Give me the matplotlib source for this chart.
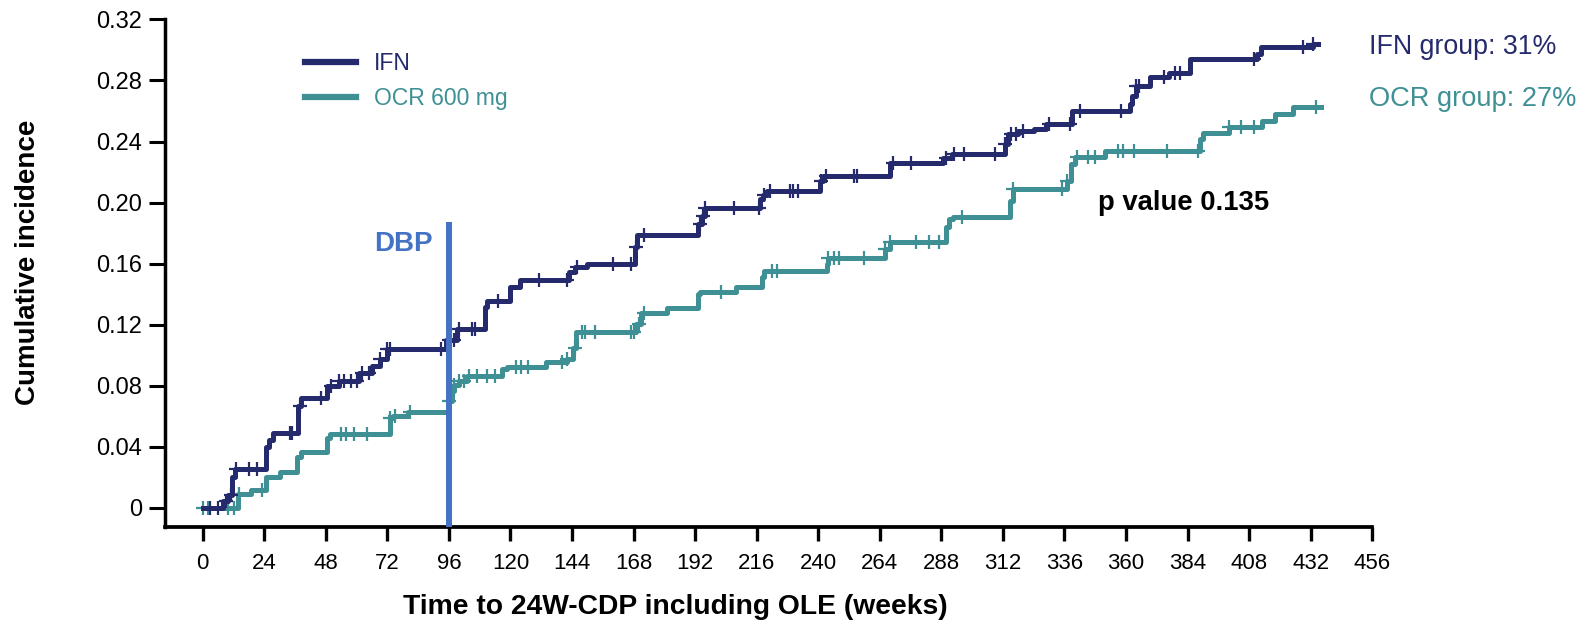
import numpy as np
import matplotlib
matplotlib.use("Agg")
import matplotlib.pyplot as plt
from matplotlib.lines import Line2D

# ---- data (weeks, cumulative incidence) ----
ifn_t = [0, 8, 10, 11.6, 12.5, 24.8, 26, 27.5, 37, 38.5, 48.5, 53, 61, 66, 69, 72,
         94.7, 99, 110, 111, 119.8, 123.7, 143, 145, 150, 168.5, 169.5, 193, 194.5,
         196, 217.3, 218.5, 220, 240.5, 242, 268, 288.8, 292, 312.8, 314, 318, 324,
         329, 338.8, 361.6, 362.5, 364, 369.4, 376.6, 385, 411, 412.5, 433, 435]
ifn_v = [0, 0.0047, 0.0083, 0.020, 0.0257, 0.040, 0.0445, 0.049, 0.0666, 0.072,
         0.080, 0.083, 0.0887, 0.093, 0.0976, 0.104, 0.110, 0.1173, 0.1314, 0.1358,
         0.1445, 0.1495, 0.1543, 0.1576, 0.160, 0.1707, 0.1788, 0.186, 0.1914,
         0.1962, 0.2024, 0.2052, 0.2073, 0.2143, 0.2172, 0.2259, 0.229, 0.2318,
         0.2383, 0.2449, 0.2466, 0.248, 0.2514, 0.260, 0.2645, 0.270, 0.2765, 0.282,
         0.2846, 0.294, 0.2973, 0.3016, 0.304, 0.304]
ifn_cens = [3, 6, 9, 11, 13, 18, 21, 34, 35, 38, 46, 50, 53, 55, 58, 60, 62, 65, 69,
            72, 73, 93, 96, 98, 100, 105, 106, 115, 131, 142, 146, 160, 167, 169, 172,
            194, 195, 196, 207, 217, 219, 221, 229, 230, 232, 241, 243, 254, 255, 269,
            276, 290, 293, 297, 309, 313, 315, 317, 320, 330, 338, 342, 358, 364, 365,
            375, 379, 381, 410, 429, 433]

ocr_t = [0, 13.7, 18.7, 24.8, 30, 36.7, 38.5, 48.6, 49.5, 73, 74, 80, 96, 97, 98,
         100, 102.9, 116.5, 118.5, 134, 141.9, 144.5, 145.5, 169, 171, 181, 193, 194,
         208, 218, 219, 243.3, 244, 266, 268, 290, 291, 292.6, 314.8, 316, 337, 338.5,
         340, 352, 389, 390, 400, 413, 418, 425, 436]
ocr_v = [0, 0.0091, 0.0118, 0.020, 0.0235, 0.0334, 0.0368, 0.0456, 0.0483, 0.0589,
         0.0604, 0.0630, 0.0700, 0.0765, 0.0802, 0.0834, 0.0863, 0.091, 0.0922,
         0.0954, 0.0976, 0.105, 0.115, 0.1205, 0.128, 0.131, 0.140, 0.1417, 0.1445,
         0.151, 0.155, 0.1598, 0.164, 0.1696, 0.174, 0.1838, 0.1893, 0.1903, 0.2012,
         0.2089, 0.2143, 0.2253, 0.2296, 0.234, 0.2416, 0.2455, 0.2492, 0.2536,
         0.258, 0.2623, 0.2623]
ocr_cens = [0, 2, 10, 12, 14, 23, 54, 56, 59, 64, 73, 75, 81, 96, 98, 100, 102, 104,
            107, 111, 114, 122, 124, 127, 140, 142, 145, 148, 149, 153, 167, 168, 170,
            172, 202, 222, 224, 244, 246, 248, 258, 266, 268, 278, 283, 287, 296, 316,
            335, 337, 341, 345, 348, 357, 359, 363, 376, 388, 400, 405, 410, 434]

x_ticks = list(range(0, 457, 24))
y_ticks = [0, 0.04, 0.08, 0.12, 0.16, 0.20, 0.24, 0.28, 0.32]
y_ticklabels = ["0", "0.04", "0.08", "0.12", "0.16", "0.20", "0.24", "0.28", "0.32"]
dbp_week = 96
dbp_top = 0.187

IFN_C = "#252A6C"
OCR_C = "#3F9094"
DBP_C = "#4472C4"

plt.rcParams['font.family'] = ['Liberation Sans', 'DejaVu Sans']

fig = plt.figure(figsize=(15.9, 6.25), dpi=100)
ax = fig.add_axes([0.1038, 0.157, 0.863 - 0.1038, 0.969 - 0.157])


def step_val(ts, vs, x):
    i = np.searchsorted(np.asarray(ts), np.asarray(x), side='right') - 1
    return np.asarray(vs)[np.clip(i, 0, len(vs) - 1)]


# DBP line
ax.plot([dbp_week, dbp_week], [-0.0124, dbp_top], color=DBP_C, lw=4.3,
        solid_capstyle='butt', zorder=4, clip_on=False)

for ts, vs, cens, col in [(ocr_t, ocr_v, ocr_cens, OCR_C), (ifn_t, ifn_v, ifn_cens, IFN_C)]:
    ax.step(ts, vs, where='post', color=col, lw=3.6, zorder=3)
    ax.plot(cens, step_val(ts, vs, cens), ls='none', marker='+', ms=10, mew=1.6,
            color=col, zorder=3)

ax.set_xlim(-14.7, 456)
ax.set_ylim(-0.0124, 0.32)
ax.set_xticks(x_ticks)
ax.set_xticklabels([str(v) for v in x_ticks], fontsize=16)
ax.set_yticks(y_ticks)
ax.set_yticklabels(y_ticklabels, fontsize=17)

for s in ['top', 'right']:
    ax.spines[s].set_visible(False)
ax.spines['left'].set_linewidth(2.5)
ax.spines['bottom'].set_linewidth(2.7)
ax.spines['left'].set_bounds(-0.0124, 0.32)
ax.tick_params(axis='x', direction='out', length=10, width=2.4, pad=9)
ax.tick_params(axis='y', direction='out', length=11.5, width=2.2, pad=5)

fig.text(0.425, 0.028, "Time to 24W-CDP including OLE (weeks)", ha='center', va='center',
         fontsize=20.3, fontweight='bold')
fig.text(0.0175, 0.581, "Cumulative incidence", rotation=90, ha='center', va='center',
         fontsize=20, fontweight='bold')

handles = [Line2D([], [], color=IFN_C, lw=4.5), Line2D([], [], color=OCR_C, lw=4.5)]
leg = ax.legend(handles, ["IFN", "OCR 600 mg"], loc='upper left',
                bbox_to_anchor=(0.099, 0.976), frameon=False, fontsize=16.5,
                handlelength=2.2, handletextpad=0.8, labelspacing=0.5)
for txt, c in zip(leg.get_texts(), [IFN_C, OCR_C]):
    txt.set_color(c)

ax.text(89.5, 0.173, "DBP", ha='right', va='center', fontsize=20,
        fontweight='bold', color=DBP_C)
ax.text(349, 0.2, "p value 0.135", ha='left', va='center', fontsize=19.8,
        fontweight='bold', color='black')
fig.text(1369 / 1590, 1 - 47 / 625, "IFN group: 31%", ha='left', va='center',
         fontsize=19.3, color=IFN_C)
fig.text(1369 / 1590, 1 - 99 / 625, "OCR group: 27%", ha='left', va='center',
         fontsize=19.6, color=OCR_C)

fig.savefig("out.png", dpi=100)
